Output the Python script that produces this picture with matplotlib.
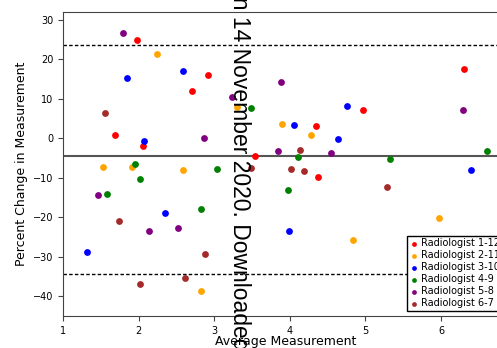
import matplotlib
matplotlib.use("Agg")
import matplotlib.pyplot as plt

## Données (moyenne, écart en %)
groupes = ["Radiologist 1-12", "Radiologist 2-11", "Radiologist 3-10",
           "Radiologist 4-9", "Radiologist 5-8", "Radiologist 6-7"]
couleurs = ["red", "orange", "blue", "green", "purple", "brown"]

x_r1 = [1.98, 2.92, 2.71, 1.69, 2.06, 6.31, 4.97, 4.34, 3.54, 4.37]
y_r1 = [24.8, 15.9, 11.9, 0.7, -2.1, 17.5, 7.0, 3.0, -4.4, -9.9]
x_r2 = [2.24, 3.30, 1.53, 1.91, 2.58, 3.89, 4.28, 2.82, 5.97, 4.83]
y_r2 = [21.2, 8.0, -7.4, -7.4, -8.1, 3.6, 0.7, -38.7, -20.3, -25.7]
x_r3 = [1.84, 2.58, 2.07, 4.76, 4.06, 4.64, 6.40, 2.34, 1.31, 3.99]
y_r3 = [15.3, 16.9, -0.6, 8.2, 3.4, -0.3, -8.1, -19.0, -28.8, -23.5]
x_r4 = [3.49, 1.95, 3.03, 2.02, 4.11, 5.32, 6.61, 1.58, 2.82, 3.97]
y_r4 = [7.6, -6.5, -7.8, -10.3, -4.7, -5.3, -3.3, -14.2, -17.8, -13.0]
x_r5 = [1.79, 2.86, 3.23, 3.88, 6.29, 3.84, 4.54, 1.46, 2.14, 2.52]
y_r5 = [26.6, 0.0, 10.4, 14.1, 7.2, -3.3, -3.7, -14.4, -23.6, -22.7]
x_r6 = [1.55, 4.13, 3.48, 4.02, 4.19, 1.74, 2.88, 2.61, 2.02, 5.29]
y_r6 = [6.4, -3.1, -7.5, -7.9, -8.4, -20.9, -29.2, -35.5, -36.8, -12.4]

moyenne = -4.6       # biais moyen
limite_haute = 23.6  # limites d'agrément
limite_basse = -34.3

xs = [x_r1, x_r2, x_r3, x_r4, x_r5, x_r6]
ys = [y_r1, y_r2, y_r3, y_r4, y_r5, y_r6]

## Figure
fig = plt.figure(figsize=(4.97, 3.48), dpi=100)
# l'axe dépasse à droite de l'image (figure rognée)
ax = fig.add_axes([63.3/497, 32/348, 444.2/497, 304.3/348])

ax.axhline(moyenne, color="#555555", lw=1.5, zorder=1)
ax.axhline(limite_haute, color="black", lw=1, ls=(0, (2.5, 1.6)), zorder=1)
ax.axhline(limite_basse, color="black", lw=1, ls=(0, (2.5, 1.6)), zorder=1)

for i in range(len(groupes)):
    ax.scatter(xs[i], ys[i], s=24, color=couleurs[i], linewidths=0,
               label=groupes[i], zorder=3)

ax.set_xlim(1, 6.88)
ax.set_ylim(-45, 32)
ax.set_xticks([1, 2, 3, 4, 5, 6])
ax.set_yticks([-40, -30, -20, -10, 0, 10, 20, 30])
ax.tick_params(labelsize=7, color="#444444", length=3.5)
for s in ax.spines.values():
    s.set_color("#444444")
ax.set_xlabel("Average Measurement", fontsize=9, labelpad=-0.5)
ax.set_ylabel("Percent Change in Measurement", fontsize=9)

leg = ax.legend(loc="lower right", fontsize=7, scatterpoints=1,
                fancybox=False, edgecolor="black", framealpha=1,
                labelspacing=0.2, handlelength=0.8, handletextpad=0.3,
                borderpad=0.3, borderaxespad=0.5, markerscale=0.7)
leg.get_frame().set_linewidth(1)

# filigrane vertical
fig.text(232.7/497, 1 + 15.7/348, "on 14 November 2020. Downloaded",
         rotation=-90, rotation_mode="anchor", ha="left", va="baseline",
         fontsize=16.5, family="Liberation Sans", color="black", zorder=10)

fig.savefig("out.png", dpi=100)
